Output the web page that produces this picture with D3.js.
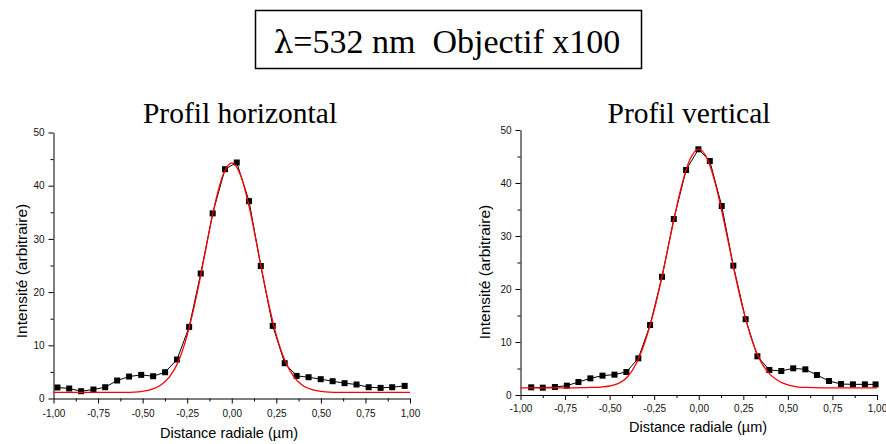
<!DOCTYPE html>
<html>
<head>
<meta charset="utf-8">
<script src="https://cdn.jsdelivr.net/npm/d3@7"></script>
<style>
    body { margin: 0; background: #fff; }
    svg { display: block; }
    .tick text { font-family: "Liberation Sans", Arial, sans-serif; font-size: 10px; fill: #111; }
    .axis-label { font-family: "Liberation Sans", Arial, sans-serif; fill: #000; }
    .serif { font-family: "Liberation Serif", "Times New Roman", serif; fill: #000; }
</style>
</head>
<body>
<div id="chart"></div>
<script>
// Profil horizontal: measured points (black squares)
const horizX = [-0.978, -0.912, -0.845, -0.776, -0.71, -0.643, -0.576, -0.508, -0.441, -0.374, -0.307, -0.239, -0.174, -0.107, -0.038,
                0.028, 0.097, 0.163, 0.23, 0.297, 0.364, 0.431, 0.499, 0.566, 0.633, 0.70, 0.768, 0.835, 0.90, 0.97];
const horizY = [2.07, 1.88, 1.37, 1.69, 2.12, 3.38, 4.13, 4.44, 4.19, 4.94, 7.33, 13.46, 23.5, 34.8, 43.1,
                44.36, 37.1, 24.9, 13.65, 6.63, 4.25, 4.0, 3.63, 3.25, 2.88, 2.63, 2.12, 2.0, 2.12, 2.37];
// Profil horizontal: fit (red line)
const fitHX = [-1, -0.9, -0.8, -0.7, -0.6, -0.55, -0.5, -0.45, -0.4, -0.35, -0.3, -0.25, -0.2, -0.15, -0.1, -0.05, 0,
               0.05, 0.1, 0.15, 0.2, 0.25, 0.3, 0.35, 0.4, 0.45, 0.5, 0.55, 0.6, 0.7, 0.8, 0.9, 1];
const fitHY = [1.15, 1.15, 1.15, 1.15, 1.16, 1.2, 1.35, 1.7, 2.5, 4.0, 6.9, 11.9, 18.9, 27.3, 35.7, 41.9, 44.3,
               41.9, 35.7, 27.3, 18.9, 11.9, 7.0, 4.0, 2.4, 1.65, 1.35, 1.2, 1.16, 1.15, 1.15, 1.15, 1.15];

// Profil vertical: measured points
const vertX = [-0.94, -0.875, -0.807, -0.74, -0.675, -0.608, -0.54, -0.473, -0.406, -0.339, -0.273, -0.206, -0.14, -0.071, -0.002,
               0.062, 0.129, 0.194, 0.263, 0.329, 0.396, 0.463, 0.53, 0.598, 0.663, 0.731, 0.798, 0.865, 0.932, 0.992];
const vertY = [1.45, 1.38, 1.51, 1.76, 2.45, 3.14, 3.65, 3.84, 4.34, 6.92, 13.2, 22.3, 33.2, 42.45, 46.36,
               44.15, 35.66, 24.4, 14.3, 7.3, 4.72, 4.53, 5.03, 4.84, 3.77, 2.64, 2.07, 2.01, 2.01, 2.0];
// Profil vertical: fit
const fitVX = [-1, -0.8, -0.7, -0.6, -0.55, -0.5, -0.45, -0.4, -0.35, -0.3, -0.25, -0.2, -0.15, -0.1, -0.05, 0,
               0.05, 0.1, 0.15, 0.2, 0.25, 0.3, 0.35, 0.4, 0.45, 0.5, 0.55, 0.6, 0.7, 0.8, 1];
const fitVY = [1.35, 1.35, 1.36, 1.42, 1.5, 1.7, 2.2, 3.4, 6.0, 10.2, 16.0, 23.3, 31.4, 39.0, 44.4, 46.4,
               44.4, 39.0, 31.4, 23.3, 16.0, 10.2, 6.2, 3.9, 2.6, 1.9, 1.55, 1.42, 1.36, 1.35, 1.35];

const xTicks = [-1, -0.75, -0.5, -0.25, 0, 0.25, 0.5, 0.75, 1];
const xMinor = [-0.875, -0.625, -0.375, -0.125, 0.125, 0.375, 0.625, 0.875];
const yTicks = [0, 10, 20, 30, 40, 50];
const yMinor = [5, 15, 25, 35, 45];

const titleParts = ["λ", "=532 nm\u00a0\u00a0Objectif x100"];
const xTitle = "Distance radiale (µm)";
const yTitle = "Intensité (arbitraire)";

const width = 886, height = 444;

const svg = d3.select("#chart")
    .append("svg")
    .attr("width", width)
    .attr("height", height);

svg.append("rect").attr("width", width).attr("height", height).attr("fill", "#fff");

// Boxed title
svg.append("rect")
    .attr("x", 255.5).attr("y", 10.5)
    .attr("width", 386).attr("height", 58)
    .attr("fill", "none")
    .attr("stroke", "#000")
    .attr("stroke-width", 1.5);

const title = svg.append("text")
    .attr("x", 447)
    .attr("y", 53)
    .attr("text-anchor", "middle")
    .style("font-size", "34px")
    .attr("fill", "#000");

title.append("tspan")
    .style("font-family", "'DejaVu Serif', serif")
    .style("font-size", "31px")
    .text(titleParts[0]);
title.append("tspan")
    .style("font-family", "'Liberation Serif', serif")
    .text(titleParts[1]);

function drawPanel(p) {
    const x = d3.scaleLinear().domain([-1, 1]).range([p.left, p.right]);
    const y = d3.scaleLinear().domain([0, 50]).range([p.bottom, p.top]);

    const g = svg.append("g");

    // subtitle
    g.append("text")
        .attr("class", "serif")
        .attr("x", p.titleX)
        .attr("y", 123)
        .attr("text-anchor", "middle")
        .style("font-size", "29.5px")
        .text(p.title);

    // Axis X (minor then major)
    g.append("g")
        .attr("transform", `translate(0,${p.bottom})`)
        .call(d3.axisBottom(x).tickValues(xMinor).tickSize(3).tickFormat(""))
        .call(a => a.select(".domain").remove());

    g.append("g")
        .attr("transform", `translate(0,${p.bottom})`)
        .call(d3.axisBottom(x).tickValues(xTicks).tickSize(5).tickSizeOuter(0).tickPadding(p.xPad)
            .tickFormat(d => d3.format(".2f")(d).replace(".", ",").replace("−", "-")));

    // Axis Y
    g.append("g")
        .attr("transform", `translate(${p.left},0)`)
        .call(d3.axisLeft(y).tickValues(yMinor).tickSize(3).tickFormat(""))
        .call(a => a.select(".domain").remove());

    g.append("g")
        .attr("transform", `translate(${p.left},0)`)
        .call(d3.axisLeft(y).tickValues(yTicks).tickSize(5).tickSizeOuter(0).tickPadding(4));

    g.selectAll(".domain, .tick line").attr("stroke", "#000");

    // Labels
    g.append("text")
        .attr("class", "axis-label")
        .attr("x", p.xTitleX)
        .attr("y", p.xTitleY)
        .attr("text-anchor", "middle")
        .style("font-size", "14.5px")
        .text(xTitle);

    g.append("text")
        .attr("class", "axis-label")
        .attr("transform", `translate(${p.yTitleX},${p.yTitleY}) rotate(-90)`)
        .attr("text-anchor", "middle")
        .style("font-size", "15.5px")
        .text(yTitle);

    // data line + squares
    const pts = p.xs.map((v, i) => [v, p.ys[i]]);
    g.append("path")
        .datum(pts)
        .attr("fill", "none")
        .attr("stroke", "#000")
        .attr("stroke-width", 1)
        .attr("d", d3.line().x(d => x(d[0])).y(d => y(d[1])));

    g.selectAll(".sq")
        .data(pts)
        .enter()
        .append("rect")
        .attr("class", "sq")
        .attr("x", d => x(d[0]) - 3)
        .attr("y", d => y(d[1]) - 3)
        .attr("width", 6)
        .attr("height", 6)
        .attr("fill", "#000");

    // fit curve
    const fit = p.fx.map((v, i) => [v, p.fy[i]]);
    g.append("path")
        .datum(fit)
        .attr("fill", "none")
        .attr("stroke", "#ff0000")
        .attr("stroke-width", 1.3)
        .attr("d", d3.line().curve(d3.curveMonotoneX).x(d => x(d[0])).y(d => y(d[1])));
}

drawPanel({
    title: "Profil horizontal", titleX: 240,
    left: 53.5, right: 410, top: 132.5, bottom: 398.5, xPad: 6,
    xTitleX: 229, xTitleY: 437.5, yTitleX: 26.5, yTitleY: 271,
    xs: horizX, ys: horizY, fx: fitHX, fy: fitHY
});

drawPanel({
    title: "Profil vertical", titleX: 689,
    left: 520.5, right: 877, top: 130, bottom: 395, xPad: 5,
    xTitleX: 698, xTitleY: 432, yTitleX: 490, yTitleY: 272,
    xs: vertX, ys: vertY, fx: fitVX, fy: fitVY
});
</script>
</body>
</html>
